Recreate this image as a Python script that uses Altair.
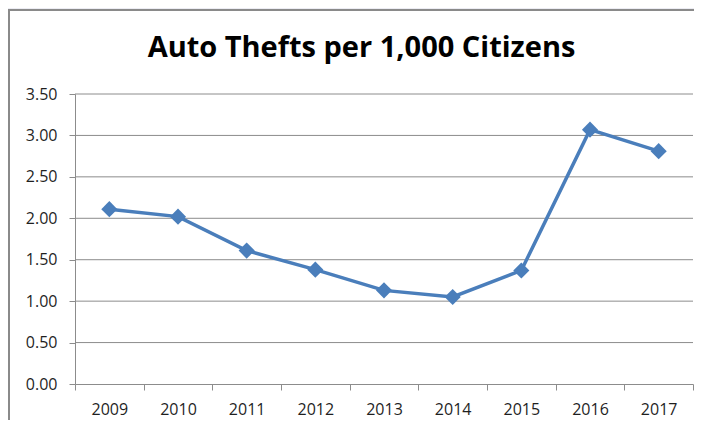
import altair as alt
import pandas as pd

years = ["2009", "2010", "2011", "2012", "2013", "2014", "2015", "2016", "2017"]
thefts = [2.11, 2.02, 1.61, 1.38, 1.13, 1.05, 1.37, 3.07, 2.81]
y_ticks = [0.0, 0.5, 1.0, 1.5, 2.0, 2.5, 3.0, 3.5]
grid_vals = [0.5, 1.0, 1.5, 2.0, 2.5, 3.0, 3.5]
title_text = "Auto Thefts per 1,000 Citizens"

df = pd.DataFrame({"year": years, "value": thefts})
grid_df = pd.DataFrame({"value": grid_vals})

FONT = "Open Sans"
LINE = "#4A7EBB"
GRID = "#8C8C8C"
TEXT = "#1F1F1F"

yscale = alt.Scale(domain=[0, 3.5], nice=False, zero=True)
y_axis = alt.Axis(
    title=None, values=y_ticks, format=".2f", grid=False,
    domainColor=GRID, tickColor=GRID,
    tickSize=6, labelFont=FONT, labelFontSize=16, labelColor=TEXT,
    labelPadding=12, zindex=1,
)

frame = alt.Chart(alt.Data(values=[{}])).mark_rect(
    fill="white", stroke="#8A8A8A", strokeWidth=2
).encode(
    x=alt.value(-66), x2=alt.value(720),
    y=alt.value(-84), y2=alt.value(380),
)

title = alt.Chart(alt.Data(values=[{}])).mark_text(
    font=FONT, fontSize=29, fontWeight="bold", color="#000000",
    align="center", baseline="alphabetic",
).encode(
    x=alt.value(286.5), y=alt.value(-37), text=alt.value(title_text),
)

grid = alt.Chart(grid_df).mark_rule(color=GRID, strokeWidth=1).encode(
    y=alt.Y("value:Q", scale=yscale, axis=y_axis),
    x=alt.value(0), x2=alt.value(618),
)

x_enc = alt.X(
    "year:O",
    sort=years,
    bandPosition=0.5,
    scale=alt.Scale(type="band", paddingInner=0, paddingOuter=0),
    axis=alt.Axis(
        title=None, labelAngle=0, tickBand="extent", grid=False,
        domainColor=GRID, tickColor=GRID, tickSize=6,
        labelFont=FONT, labelFontSize=16, labelColor=TEXT,
        labelPadding=11, zindex=1,
    ),
)
y_enc = alt.Y("value:Q", scale=yscale, axis=y_axis)

line = alt.Chart(df).mark_line(color=LINE, strokeWidth=3.5).encode(x=x_enc, y=y_enc)
pts = alt.Chart(df).mark_point(
    shape="diamond", filled=True, size=260, color=LINE, opacity=1
).encode(x=x_enc, y=y_enc)

chart = alt.layer(frame, title, grid, line, pts).properties(
    width=618,
    height=290,
    autosize=alt.AutoSizeParams(type="none"),
    padding={"left": 67, "top": 86, "right": 1, "bottom": 36},
    background="#ECECF3",
).configure_view(stroke=None)

chart.save("out.html", embed_options={"renderer": "svg", "actions": False})
